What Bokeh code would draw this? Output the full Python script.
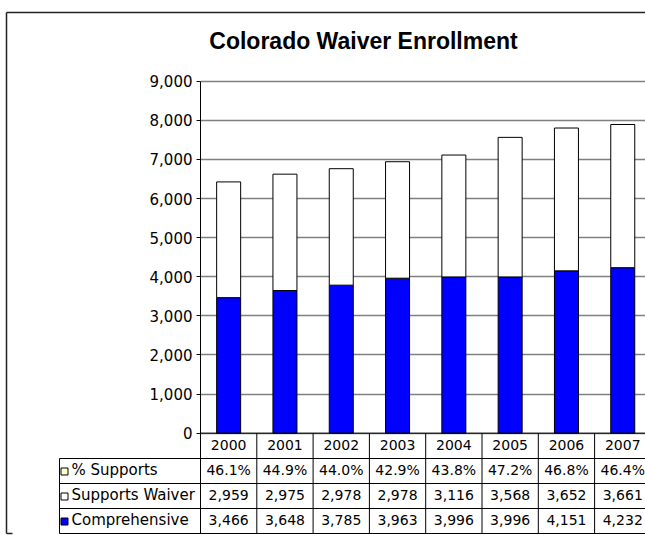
from bokeh.plotting import figure
from bokeh.models import Range1d, FixedTicker, NumeralTickFormatter, ColumnDataSource
from bokeh.core.properties import value
from bokeh.embed import file_html
from bokeh.resources import INLINE

# ---- data ----
years = ["2000", "2001", "2002", "2003", "2004", "2005", "2006", "2007"]
comprehensive = [3466, 3648, 3785, 3963, 3996, 3996, 4151, 4232]
supports_waiver = [2959, 2975, 2978, 2978, 3116, 3568, 3652, 3661]
pct_supports = [46.1, 44.9, 44.0, 42.9, 43.8, 47.2, 46.8, 46.4]
y_ticks = [0, 1000, 2000, 3000, 4000, 5000, 6000, 7000, 8000, 9000]
row_labels = ["% Supports", "Supports Waiver", "Comprehensive"]
title_text = "Colorado Waiver Enrollment"

# ---- layout constants (pixels) ----
W, H = 645, 535
X0 = 200          # plot area left edge
Y_ZERO = 432.7    # pixel row of value 0
Y_TOP = 80.7      # pixel row of value 9000
CAT = 56.3        # category width
BAR_W = 24
FONT = "DejaVu Sans"
FS = "15px"
FS_CELL = "14px"

ppu = (Y_ZERO - Y_TOP) / y_ticks[-1]
idx = list(range(len(years)))

p = figure(width=W, height=H, output_backend="svg", toolbar_location=None,
           x_range=Range1d(-0.5, -0.5 + (W - X0) / CAT),
           y_range=Range1d(-(H - Y_ZERO) / ppu, Y_ZERO / ppu),
           x_axis_location=None,
           min_border_left=X0, min_border_right=0, min_border_top=0, min_border_bottom=0)
p.extra_x_ranges = {"px": Range1d(X0, W)}
p.extra_y_ranges = {"py": Range1d(H, 0)}
p.outline_line_color = None
p.background_fill_color = "white"
p.border_fill_color = "white"

yax = p.yaxis[0]
yax.ticker = FixedTicker(ticks=y_ticks)
yax.bounds = (0, y_ticks[-1])
yax.formatter = NumeralTickFormatter(format="0,0")
yax.major_tick_in = 0
yax.major_tick_out = 4
yax.minor_tick_line_color = None
yax.major_label_standoff = 4
yax.major_label_text_font = FONT
yax.major_label_text_font_size = FS
yax.major_label_text_color = "black"
yax.axis_line_color = "black"
yax.major_tick_line_color = "black"

p.xgrid.visible = False
p.ygrid.ticker = FixedTicker(ticks=y_ticks)
p.ygrid.grid_line_color = "#808080"
p.ygrid.grid_line_width = 1.5

src = ColumnDataSource(dict(x=idx, comp=comprehensive, sup=supports_waiver))
p.vbar_stack(["comp", "sup"], x="x", width=BAR_W / CAT, source=src,
             fill_color=["#0000FF", "#FFFFFF"], line_color="black", line_width=1)

# ---- data table ----
HDR_BOT = 458
ROW_H = 25
TBL_L = 59
TBL_R = X0 + CAT * len(years)
row_tops = [HDR_BOT + ROW_H * r for r in range(len(row_labels) + 1)]

hx0 = [X0] + [TBL_L] * len(row_tops)
hx1 = [TBL_R] * (1 + len(row_tops))
hy = [Y_ZERO] + row_tops
p.segment(x0=hx0, y0=hy, x1=hx1, y1=hy, x_range_name="px", y_range_name="py",
          line_color="black", line_width=1, level="overlay")
vx = [TBL_L] + [X0 + CAT * k for k in range(len(years) + 1)]
vy0 = [HDR_BOT] + [Y_ZERO] * (len(years) + 1)
vy1 = [row_tops[-1]] * len(vx)
p.segment(x0=vx, y0=vy0, x1=vx, y1=vy1, x_range_name="px", y_range_name="py",
          line_color="black", line_width=1, level="overlay")

# header years
p.text(x=idx, y=[(Y_ZERO + HDR_BOT) / 2 - 1] * len(idx), text=years, y_range_name="py",
       text_font=value(FONT), text_font_size=FS_CELL, text_align="center",
       text_baseline="middle", text_color="black", level="overlay")

rows = [[f"{v:.1f}%" for v in pct_supports],
        [f"{v:,}" for v in supports_waiver],
        [f"{v:,}" for v in comprehensive]]
row_cy = [row_tops[r] + ROW_H / 2 - 1 for r in range(len(row_labels))]
for r, vals in enumerate(rows):
    p.text(x=idx, y=[row_cy[r]] * len(idx), text=vals, y_range_name="py",
           text_font=value(FONT), text_font_size=FS_CELL, text_align="center",
           text_baseline="middle", text_color="black", level="overlay")

p.rect(x=[64] * 3, y=[c + 1.5 for c in row_cy], width=7, height=7,
       x_range_name="px", y_range_name="py",
       fill_color=["#FFFFCC", "#FFFFFF", "#0000FF"], line_color="black", line_width=1,
       level="overlay")
p.text(x=[71] * 3, y=row_cy, text=row_labels, x_range_name="px", y_range_name="py",
       text_font=value(FONT), text_font_size=FS, text_align="left",
       text_baseline="middle", text_color="black", level="overlay")

# outer chart border
p.segment(x0=[6, 6, 6], y0=[12, 12, 533], x1=[W, 6, 12], y1=[12, 533, 533],
          x_range_name="px", y_range_name="py", line_color="#222222", line_width=1.5,
          level="overlay")

# title
p.text(x=[363], y=[40], text=[title_text], x_range_name="px", y_range_name="py",
       text_font=value("Liberation Sans"), text_font_size="23px", text_font_style="bold",
       text_align="center", text_baseline="middle", text_color="black", level="overlay")

open("out.html", "w").write(file_html(p, INLINE))
